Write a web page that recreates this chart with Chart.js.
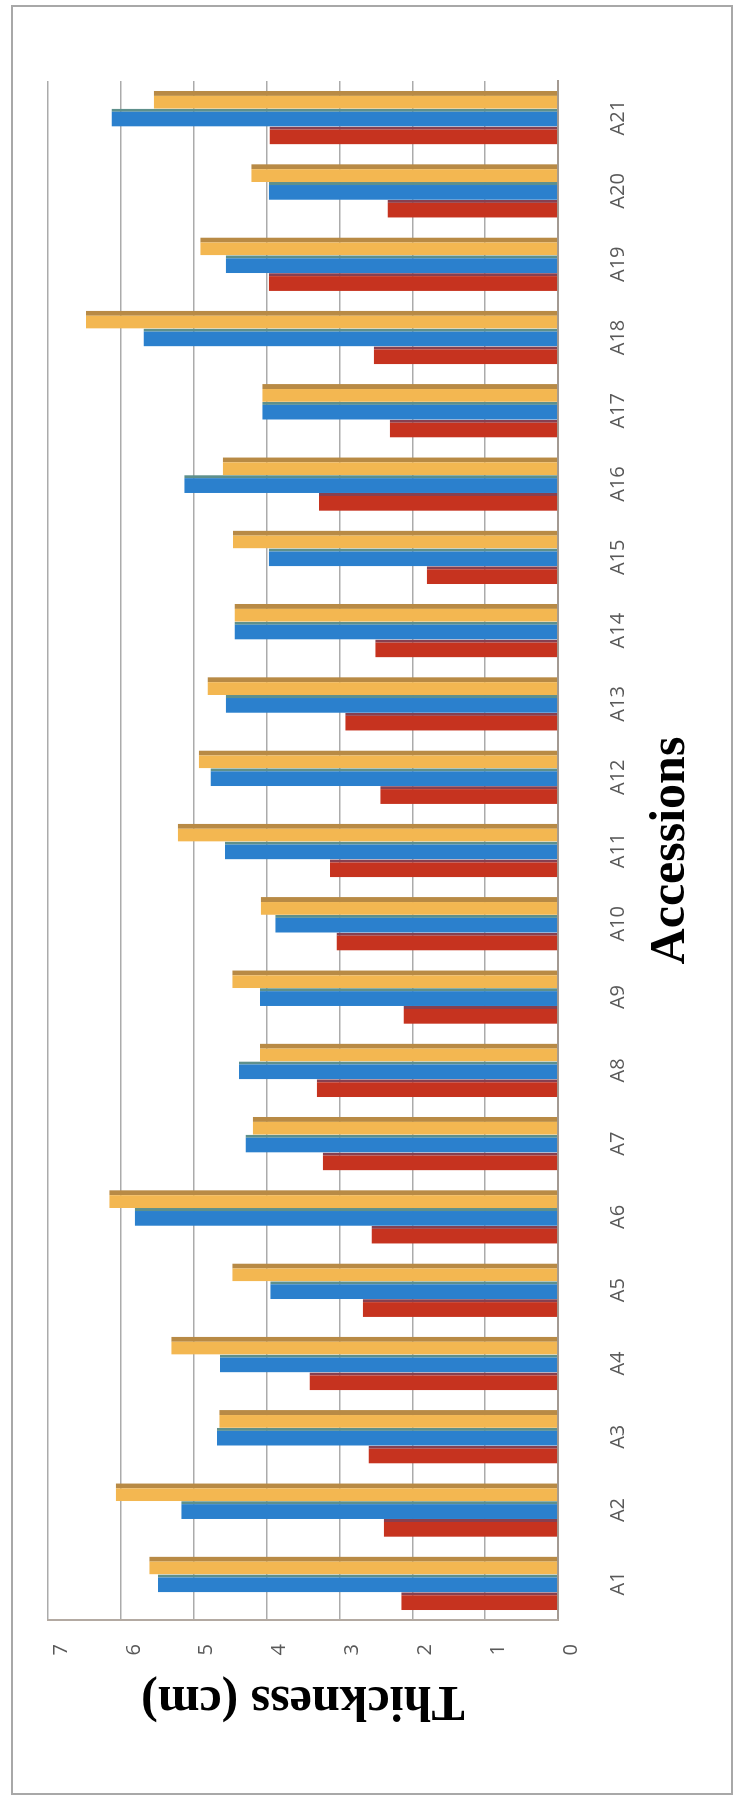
<!DOCTYPE html>
<html>
<head>
<meta charset="utf-8">
<script src="https://cdn.jsdelivr.net/npm/chart.js@4"></script>
<style>
    html, body {
        margin: 0;
        padding: 0;
        width: 737px;
        height: 1798px;
        overflow: hidden;
        background: #ffffff;
    }
    /* рамката около цялата графика */
    #frame {
        position: absolute;
        left: 11px;
        top: 5px;
        width: 718px;
        height: 1786px;
        border: 2px solid #a8a8a8;
    }
    /* графиката се рисува хоризонтално и после се завърта на -90 градуса */
    #wrap {
        position: absolute;
        left: 0;
        top: 0;
        width: 1798px;
        height: 737px;
        transform-origin: 0 0;
        transform: translateY(1798px) rotate(-90deg);
    }
</style>
</head>
<body>
<div id="frame"></div>
<div id="wrap">
    <canvas id="myBarplot" width="1798" height="737"></canvas>
</div>
<script>
// Категории (accessions)
const accessions = ['A1', 'A2', 'A3', 'A4', 'A5', 'A6', 'A7', 'A8', 'A9', 'A10', 'A11',
    'A12', 'A13', 'A14', 'A15', 'A16', 'A17', 'A18', 'A19', 'A20', 'A21'];

// Стойностите на трите серии (cm)
const redValues = [2.15, 2.39, 2.60, 3.41, 2.68, 2.56, 3.23, 3.31, 2.12, 3.04, 3.13,
    2.44, 2.92, 2.51, 1.80, 3.28, 2.31, 2.53, 3.97, 2.34, 3.96];
const blueValues = [5.49, 5.17, 4.68, 4.64, 3.95, 5.81, 4.29, 4.38, 4.09, 3.88, 4.57,
    4.77, 4.56, 4.44, 3.97, 5.13, 4.06, 5.69, 4.56, 3.97, 6.13];
const yellowValues = [5.61, 6.07, 4.65, 5.31, 4.47, 6.16, 4.19, 4.09, 4.47, 4.08, 5.22,
    4.93, 4.81, 4.44, 4.46, 4.60, 4.06, 6.48, 4.91, 4.21, 5.55];

// Деленията по оста на стойностите
const valueTicks = [0, 1, 2, 3, 4, 5, 6, 7];

const labelFont = { family: 'Open Sans', size: 20 };
const titleFont = { family: 'Liberation Serif', size: 50, weight: 'bold' };

const canvasBarplot = document.getElementById('myBarplot');

new Chart(canvasBarplot, {
    type: 'bar',
    data: {
        labels: accessions,
        datasets: [
            {
                label: 'Series1',
                data: redValues,
                backgroundColor: '#c6331f',
                borderColor: '#874050',
                borderWidth: { top: 0, right: 3, bottom: 0, left: 0 }
            },
            {
                label: 'Series2',
                data: blueValues,
                backgroundColor: '#2b80cd',
                borderColor: '#5e908c',
                borderWidth: { top: 0, right: 3, bottom: 0, left: 0 }
            },
            {
                label: 'Series3',
                data: yellowValues,
                backgroundColor: '#f3b751',
                borderColor: '#b88a45',
                borderWidth: { top: 0, right: 5, bottom: 0, left: 0 }
            }
        ]
    },
    options: {
        responsive: false,
        animation: false,
        categoryPercentage: 0.73,
        barPercentage: 1.0,
        layout: {
            padding: { left: 64, right: 81, top: 48, bottom: 0 }
        },
        scales: {
            x: {
                grid: { display: false },
                border: { display: true, color: '#a39a92', width: 2 },
                ticks: {
                    color: '#595959',
                    font: labelFont,
                    padding: 40,
                    maxRotation: 0,
                    autoSkip: false
                },
                title: {
                    display: true,
                    text: 'Accessions',
                    color: '#000000',
                    font: titleFont,
                    padding: { top: 0, bottom: 36 }
                },
                afterFit: function(scale) {
                    scale.height = 179;
                }
            },
            y: {
                min: 0,
                max: 7,
                afterBuildTicks: function(scale) {
                    scale.ticks = valueTicks.map(v => ({ value: v }));
                },
                grid: {
                    color: '#ababab',
                    lineWidth: 1.5,
                    drawTicks: false
                },
                border: { display: true, color: '#b3aaa2', width: 2 },
                ticks: {
                    color: '#595959',
                    font: labelFont,
                    padding: 24,
                    // предната (3D) ос е малко изместена спрямо задната стена
                    labelOffset: 13
                },
                title: {
                    display: true,
                    text: 'Thickness (cm)',
                    color: '#000000',
                    font: titleFont,
                    padding: { top: 4, bottom: 4 }
                },
                afterFit: function(scale) {
                    scale.width = 114;
                }
            }
        },
        plugins: {
            legend: { display: false },
            tooltip: { enabled: false }
        }
    }
});
</script>
</body>
</html>
